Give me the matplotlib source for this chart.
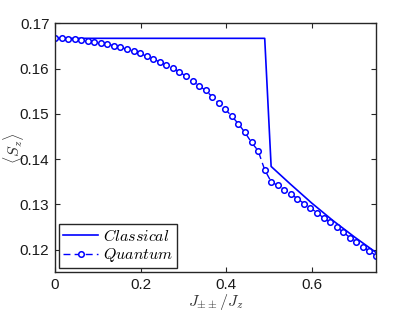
import numpy as np
import matplotlib
matplotlib.use("Agg")
import matplotlib.pyplot as plt

plt.rcParams["font.family"] = ["Liberation Sans", "DejaVu Sans"]
plt.rcParams["mathtext.fontset"] = "cm"

# classical solution
x_classical = [0.0, 0.49, 0.505, 0.55, 0.60, 0.65, 0.70, 0.75]
y_classical = [0.1667, 0.1667, 0.1384, 0.1345, 0.1303, 0.1264, 0.1228, 0.1194]

# quantum solution, 50 points on [0, 0.75]
x_quantum = np.linspace(0, 0.75, 50)
y_quantum = [
    0.1667, 0.1667, 0.1666, 0.1665, 0.1664, 0.1662, 0.1660, 0.1657, 0.1654, 0.1651,
    0.1647, 0.1643, 0.1639, 0.1634, 0.1627, 0.1621, 0.1615, 0.1608, 0.1601, 0.1593,
    0.1583, 0.1572, 0.1562, 0.1552, 0.1538, 0.1524, 0.1510, 0.1495, 0.1478, 0.1459,
    0.1437, 0.1419, 0.1377, 0.1350, 0.1342, 0.1333, 0.1323, 0.1313, 0.1302, 0.1292,
    0.1282, 0.1270, 0.1261, 0.1250, 0.1239, 0.1227, 0.1218, 0.1207, 0.1197, 0.1187,
]

x_ticks = [0, 0.2, 0.4, 0.6]
y_ticks = [0.12, 0.13, 0.14, 0.15, 0.16, 0.17]

fig = plt.figure(figsize=(4.15, 3.12), dpi=100)
ax = fig.add_axes([0.1325, 0.127, 0.7735, 0.798])

ax.plot(x_classical, y_classical, color="blue", linewidth=1.2, label=r"$Classical$")
ax.plot(x_quantum, y_quantum, color="blue", linewidth=1.0, linestyle=(0, (5, 3)),
        marker="o", markersize=4.0, markerfacecolor="white", markeredgewidth=1.1,
        label=r"$Quantum$")

ax.set_xlim(0, 0.75)
ax.set_ylim(0.115, 0.17)
ax.set_xticks(x_ticks)
ax.set_xticklabels(["0", "0.2", "0.4", "0.6"])
ax.set_yticks(y_ticks)
ax.set_yticklabels(["0.12", "0.13", "0.14", "0.15", "0.16", "0.17"])

frame_color = "#262626"
for side in ax.spines.values():
    side.set_color(frame_color)
    side.set_linewidth(1.0)
ax.tick_params(direction="in", top=True, right=True, length=3.5, width=0.8,
               color=frame_color, labelsize=11, labelcolor="#1a1a1a", pad=4)

ax.set_xlabel(r"$J_{\pm\pm}/J_z$", fontsize=11.5, color="#333333", labelpad=0)
ax.set_ylabel(r"$\langle S_z \rangle$", fontsize=11.5, color="#333333")
ax.yaxis.set_label_coords(-0.09, 0.5)

leg = ax.legend(loc="lower left", fontsize=11.5, frameon=True, fancybox=False,
                handlelength=2.2, handletextpad=0.3, borderpad=0.25,
                labelspacing=0.15, borderaxespad=0.25)
leg.get_frame().set_edgecolor(frame_color)
leg.get_frame().set_linewidth(1.0)
leg.get_frame().set_alpha(1.0)

fig.savefig("out.png", dpi=100)
